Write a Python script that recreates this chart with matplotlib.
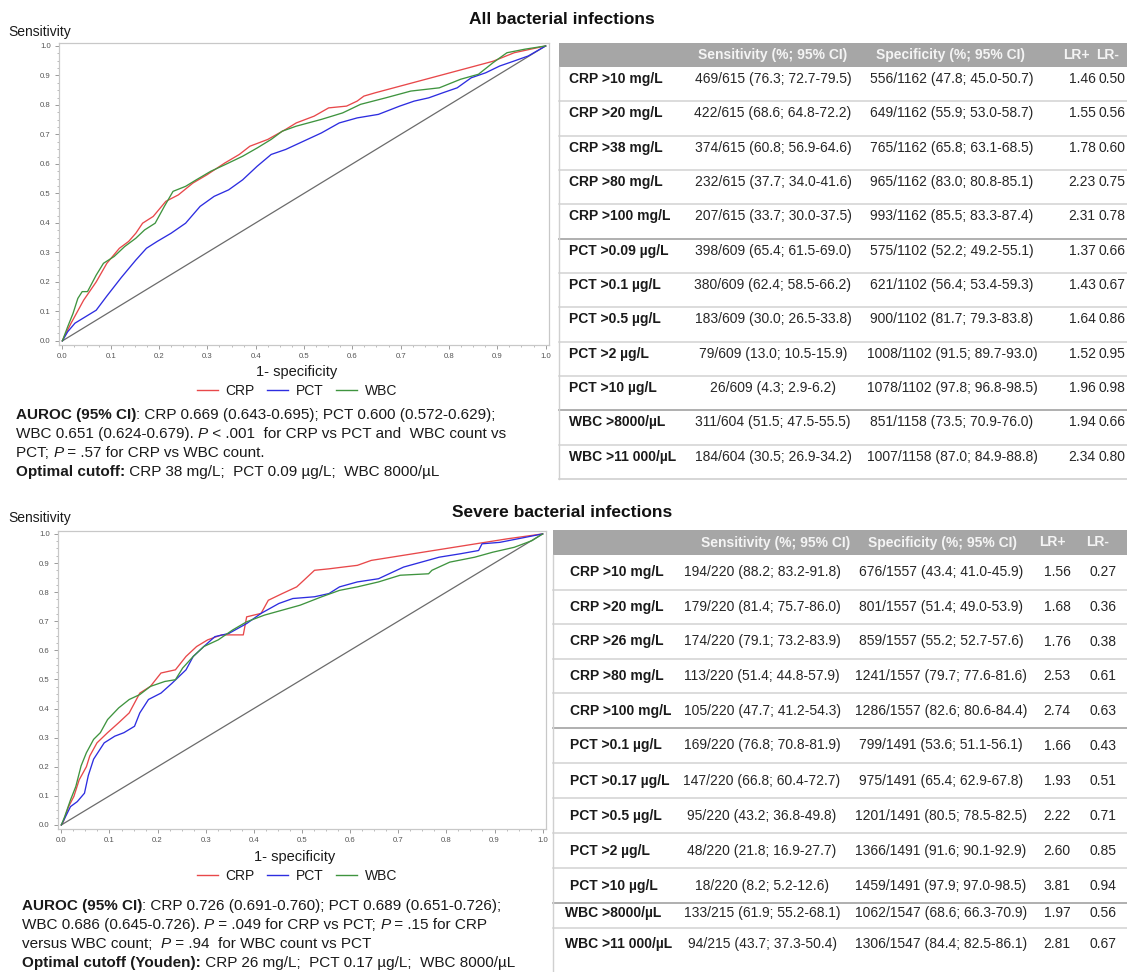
import matplotlib
matplotlib.use('Agg')
import matplotlib.pyplot as plt
from matplotlib.lines import Line2D
from matplotlib.patches import Rectangle
from matplotlib.ticker import MultipleLocator

W, H = 1127, 972
plt.rcParams['font.family'] = ['Liberation Sans', 'DejaVu Sans']

# ---------------- ROC data ----------------
# Top panel: all bacterial infections
top_crp_fpr = [0.0, 0.004, 0.018, 0.044, 0.07, 0.092, 0.118, 0.137, 0.152, 0.166, 0.188, 0.214, 0.24, 0.27,
               0.299, 0.336, 0.366, 0.388, 0.425, 0.462, 0.484, 0.521, 0.551, 0.588, 0.61, 0.624, 0.647,
               0.891, 0.935, 1.0]
top_crp_tpr = [0.0, 0.015, 0.06, 0.138, 0.2, 0.263, 0.314, 0.337, 0.365, 0.399, 0.422, 0.473, 0.495, 0.535,
               0.563, 0.603, 0.632, 0.66, 0.683, 0.717, 0.739, 0.762, 0.79, 0.796, 0.813, 0.83, 0.841,
               0.948, 0.977, 1.0]
top_pct_fpr = [0.0, 0.011, 0.026, 0.048, 0.07, 0.092, 0.122, 0.152, 0.174, 0.196, 0.225, 0.255, 0.285,
               0.314, 0.344, 0.373, 0.403, 0.432, 0.462, 0.499, 0.536, 0.573, 0.61, 0.654, 0.698, 0.728,
               0.758, 0.787, 0.817, 0.846, 0.876, 0.905, 0.935, 0.964, 1.0]
top_pct_tpr = [0.0, 0.031, 0.06, 0.082, 0.104, 0.152, 0.215, 0.274, 0.314, 0.337, 0.365, 0.399, 0.456,
               0.49, 0.512, 0.546, 0.592, 0.632, 0.649, 0.677, 0.705, 0.739, 0.756, 0.768, 0.796, 0.813,
               0.824, 0.841, 0.858, 0.892, 0.909, 0.932, 0.949, 0.966, 1.0]
top_wbc_fpr = [0.0, 0.011, 0.022, 0.032, 0.041, 0.052, 0.07, 0.085, 0.107, 0.129, 0.152, 0.17, 0.192,
               0.211, 0.229, 0.255, 0.277, 0.307, 0.336, 0.373, 0.403, 0.432, 0.455, 0.484, 0.536, 0.58,
               0.617, 0.669, 0.721, 0.78, 0.824, 0.861, 0.891, 0.92, 0.957, 1.0]
top_wbc_tpr = [0.0, 0.048, 0.093, 0.144, 0.167, 0.167, 0.223, 0.263, 0.286, 0.32, 0.348, 0.376, 0.399,
               0.456, 0.507, 0.524, 0.546, 0.575, 0.597, 0.626, 0.654, 0.683, 0.711, 0.728, 0.751, 0.773,
               0.802, 0.824, 0.847, 0.858, 0.887, 0.904, 0.943, 0.977, 0.989, 1.0]

# Bottom panel: severe bacterial infections
bot_crp_fpr = [0.0, 0.004, 0.015, 0.026, 0.037, 0.052, 0.059, 0.074, 0.096, 0.119, 0.141, 0.163, 0.185,
               0.207, 0.237, 0.259, 0.281, 0.304, 0.333, 0.378, 0.385, 0.415, 0.43, 0.459, 0.489, 0.504,
               0.526, 0.556, 0.585, 0.615, 0.644, 0.926, 1.0]
bot_crp_tpr = [0.0, 0.011, 0.063, 0.098, 0.155, 0.2, 0.237, 0.282, 0.317, 0.351, 0.385, 0.453, 0.476,
               0.522, 0.533, 0.579, 0.613, 0.636, 0.653, 0.653, 0.715, 0.727, 0.772, 0.795, 0.818, 0.841,
               0.875, 0.88, 0.886, 0.892, 0.909, 0.983, 1.0]
bot_pct_fpr = [0.0, 0.007, 0.019, 0.033, 0.048, 0.056, 0.067, 0.089, 0.111, 0.13, 0.152, 0.163, 0.181,
               0.207, 0.23, 0.259, 0.274, 0.296, 0.319, 0.348, 0.385, 0.415, 0.452, 0.481, 0.526, 0.556,
               0.578, 0.615, 0.659, 0.681, 0.711, 0.748, 0.785, 0.83, 0.867, 0.874, 0.911, 0.948, 1.0]
bot_pct_tpr = [0.0, 0.023, 0.063, 0.08, 0.109, 0.17, 0.226, 0.282, 0.305, 0.317, 0.339, 0.385, 0.431,
               0.453, 0.487, 0.533, 0.579, 0.613, 0.647, 0.658, 0.692, 0.727, 0.761, 0.778, 0.784, 0.795,
               0.818, 0.835, 0.846, 0.863, 0.886, 0.903, 0.92, 0.932, 0.943, 0.966, 0.971, 0.983, 1.0]
bot_wbc_fpr = [0.0, 0.007, 0.019, 0.03, 0.041, 0.052, 0.067, 0.081, 0.096, 0.119, 0.141, 0.163, 0.185,
               0.215, 0.237, 0.252, 0.274, 0.296, 0.326, 0.356, 0.385, 0.422, 0.459, 0.496, 0.541, 0.578,
               0.615, 0.659, 0.704, 0.763, 0.77, 0.807, 0.859, 0.896, 0.941, 0.978, 1.0]
bot_wbc_tpr = [0.0, 0.029, 0.086, 0.132, 0.203, 0.248, 0.294, 0.317, 0.362, 0.402, 0.431, 0.448, 0.476,
               0.493, 0.499, 0.539, 0.579, 0.613, 0.636, 0.67, 0.698, 0.721, 0.738, 0.755, 0.784, 0.806,
               0.818, 0.835, 0.858, 0.863, 0.875, 0.903, 0.92, 0.937, 0.954, 0.977, 1.0]

tick_values = [0.0, 0.1, 0.2, 0.3, 0.4, 0.5, 0.6, 0.7, 0.8, 0.9, 1.0]
tick_labels = ['0.0', '0.1', '0.2', '0.3', '0.4', '0.5', '0.6', '0.7', '0.8', '0.9', '1.0']
series_names = ['CRP', 'PCT', 'WBC']

# ---------------- Table data ----------------
table_header = ['Sensitivity (%; 95% CI)', 'Specificity (%; 95% CI)', 'LR+', 'LR-']

top_labels = ['CRP >10 mg/L', 'CRP >20 mg/L', 'CRP >38 mg/L', 'CRP >80 mg/L', 'CRP >100 mg/L',
              'PCT >0.09 µg/L', 'PCT >0.1 µg/L', 'PCT >0.5 µg/L', 'PCT >2 µg/L', 'PCT >10 µg/L',
              'WBC >8000/µL', 'WBC >11 000/µL']
top_sens = ['469/615 (76.3; 72.7-79.5)', '422/615 (68.6; 64.8-72.2)', '374/615 (60.8; 56.9-64.6)',
            '232/615 (37.7; 34.0-41.6)', '207/615 (33.7; 30.0-37.5)', '398/609 (65.4; 61.5-69.0)',
            '380/609 (62.4; 58.5-66.2)', '183/609 (30.0; 26.5-33.8)', '79/609 (13.0; 10.5-15.9)',
            '26/609 (4.3; 2.9-6.2)', '311/604 (51.5; 47.5-55.5)', '184/604 (30.5; 26.9-34.2)']
top_spec = ['556/1162 (47.8; 45.0-50.7)', '649/1162 (55.9; 53.0-58.7)', '765/1162 (65.8; 63.1-68.5)',
            '965/1162 (83.0; 80.8-85.1)', '993/1162 (85.5; 83.3-87.4)', '575/1102 (52.2; 49.2-55.1)',
            '621/1102 (56.4; 53.4-59.3)', '900/1102 (81.7; 79.3-83.8)', '1008/1102 (91.5; 89.7-93.0)',
            '1078/1102 (97.8; 96.8-98.5)', '851/1158 (73.5; 70.9-76.0)', '1007/1158 (87.0; 84.9-88.8)']
top_lrp = ['1.46', '1.55', '1.78', '2.23', '2.31', '1.37', '1.43', '1.64', '1.52', '1.96', '1.94', '2.34']
top_lrn = ['0.50', '0.56', '0.60', '0.75', '0.78', '0.66', '0.67', '0.86', '0.95', '0.98', '0.66', '0.80']

bot_labels = ['CRP >10 mg/L', 'CRP >20 mg/L', 'CRP >26 mg/L', 'CRP >80 mg/L', 'CRP >100 mg/L',
              'PCT >0.1 µg/L', 'PCT >0.17 µg/L', 'PCT >0.5 µg/L', 'PCT >2 µg/L', 'PCT >10 µg/L',
              'WBC >8000/µL', 'WBC >11 000/µL']
bot_sens = ['194/220 (88.2; 83.2-91.8)', '179/220 (81.4; 75.7-86.0)', '174/220 (79.1; 73.2-83.9)',
            '113/220 (51.4; 44.8-57.9)', '105/220 (47.7; 41.2-54.3)', '169/220 (76.8; 70.8-81.9)',
            '147/220 (66.8; 60.4-72.7)', '95/220 (43.2; 36.8-49.8)', '48/220 (21.8; 16.9-27.7)',
            '18/220 (8.2; 5.2-12.6)', '133/215 (61.9; 55.2-68.1)', '94/215 (43.7; 37.3-50.4)']
bot_spec = ['676/1557 (43.4; 41.0-45.9)', '801/1557 (51.4; 49.0-53.9)', '859/1557 (55.2; 52.7-57.6)',
            '1241/1557 (79.7; 77.6-81.6)', '1286/1557 (82.6; 80.6-84.4)', '799/1491 (53.6; 51.1-56.1)',
            '975/1491 (65.4; 62.9-67.8)', '1201/1491 (80.5; 78.5-82.5)', '1366/1491 (91.6; 90.1-92.9)',
            '1459/1491 (97.9; 97.0-98.5)', '1062/1547 (68.6; 66.3-70.9)', '1306/1547 (84.4; 82.5-86.1)']
bot_lrp = ['1.56', '1.68', '1.76', '2.53', '2.74', '1.66', '1.93', '2.22', '2.60', '3.81', '1.97', '2.81']
bot_lrn = ['0.27', '0.36', '0.38', '0.61', '0.63', '0.43', '0.51', '0.71', '0.85', '0.94', '0.56', '0.67']

top_title = 'All bacterial infections'
bot_title = 'Severe bacterial infections'

top_notes = [
    [('AUROC (95% CI)', 'b'), (': CRP 0.669 (0.643-0.695); PCT 0.600 (0.572-0.629);', 'n')],
    [('WBC 0.651 (0.624-0.679). ', 'n'), ('P', 'i'), (' < .001  for CRP vs PCT and  WBC count vs', 'n')],
    [('PCT; ', 'n'), ('P', 'i'), (' = .57 for CRP vs WBC count.', 'n')],
    [('Optimal cutoff:', 'b'), (' CRP 38 mg/L;  PCT 0.09 µg/L;  WBC 8000/µL', 'n')],
]
bot_notes = [
    [('AUROC (95% CI)', 'b'), (': CRP 0.726 (0.691-0.760); PCT 0.689 (0.651-0.726);', 'n')],
    [('WBC 0.686 (0.645-0.726). ', 'n'), ('P', 'i'), (' = .049 for CRP vs PCT; ', 'n'), ('P', 'i'),
     (' = .15 for CRP', 'n')],
    [('versus WBC count;  ', 'n'), ('P', 'i'), (' = .94  for WBC count vs PCT', 'n')],
    [('Optimal cutoff (Youden):', 'b'), (' CRP 26 mg/L;  PCT 0.17 µg/L;  WBC 8000/µL', 'n')],
]

# ---------------- Figure ----------------
fig = plt.figure(figsize=(W / 100, H / 100), dpi=100)
fig.patch.set_facecolor('white')
renderer = fig.canvas.get_renderer()

def fx(px):
    return px / W

def fy(py):
    return 1 - py / H

COL = {'CRP': '#e8484a', 'PCT': '#2d2de0', 'WBC': '#3f943f'}
TXT = '#1a1a1a'

def roc_axes(left, top, right, bottom, curves):
    ax = fig.add_axes([fx(left), fy(bottom), (right - left) / W, (bottom - top) / H])
    ax.plot([0, 1], [0, 1], color='#6b6b6b', lw=0.9)
    for name, (xs, ys) in zip(series_names, curves):
        ax.plot(xs, ys, color=COL[name], lw=0.95)
    ax.set_xlim(-0.007, 1.007)
    ax.set_ylim(-0.014, 1.01)
    ax.set_xticks(tick_values)
    ax.set_xticklabels(tick_labels)
    ax.set_yticks(tick_values)
    ax.set_yticklabels(tick_labels)
    ax.xaxis.set_minor_locator(MultipleLocator(0.025))
    ax.yaxis.set_minor_locator(MultipleLocator(0.025))
    ax.tick_params(which='major', length=3, width=0.7, color='#9a9a9a', labelsize=5.6,
                   labelcolor='#555555', pad=3)
    ax.tick_params(which='minor', length=1.6, width=0.6, color='#b0b0b0')
    for s in ax.spines.values():
        s.set_color('#c8c8c8')
        s.set_linewidth(0.9)
    return ax

def measure(s, **kw):
    t1 = fig.text(0, 0, s + 'x', fontsize=kw.get('size', 10), fontweight=kw.get('weight', 'normal'),
                  fontstyle=kw.get('style', 'normal'))
    t2 = fig.text(0, 0, 'x', fontsize=kw.get('size', 10), fontweight=kw.get('weight', 'normal'),
                  fontstyle=kw.get('style', 'normal'))
    w = t1.get_window_extent(renderer=renderer).width - t2.get_window_extent(renderer=renderer).width
    t1.remove()
    t2.remove()
    return w

def rich_line(x, y, segments, size=11):
    for s, st in segments:
        kw = dict(size=size)
        if st == 'b':
            kw['weight'] = 'bold'
        if st == 'i':
            kw['style'] = 'italic'
        fig.text(fx(x), fy(y), s, fontsize=size, fontweight=kw.get('weight', 'normal'),
                 fontstyle=kw.get('style', 'normal'), color=TXT, ha='left', va='center')
        x += measure(s, **kw)

def hline(x0, x1, y, color, lw=1.1):
    fig.add_artist(Line2D([fx(x0), fx(x1)], [fy(y), fy(y)], transform=fig.transFigure,
                          color=color, lw=lw))

def vline(x, y0, y1, color, lw=1.0):
    fig.add_artist(Line2D([fx(x), fx(x)], [fy(y0), fy(y1)], transform=fig.transFigure,
                          color=color, lw=lw))

def draw_table(x0, x1, hdr_top, hdr_bot, header_x, col_x, label_x, row_y, seps, dark_seps, labels,
               sens, spec, lrp, lrn, bottom_border=None, label_x_wbc=None):
    fig.add_artist(Rectangle((fx(x0), fy(hdr_bot)), (x1 - x0) / W, (hdr_bot - hdr_top) / H,
                             transform=fig.transFigure, facecolor='#a6a6a6', edgecolor='none'))
    hy = (hdr_top + hdr_bot) / 2
    for hx, htxt in zip(header_x, table_header):
        fig.text(fx(hx), fy(hy), htxt, fontsize=10, fontweight='bold', color='#f4f4f4',
                 ha='center', va='center')
    for s in seps:
        hline(x0, x1, s, '#d6d6d6', 1.2)
    for s in dark_seps:
        hline(x0, x1, s, '#a9a9a9', 1.3)
    if bottom_border is not None:
        hline(x0, x1, bottom_border, '#d0d0d0', 1.2)
        vline(x0, hdr_bot, bottom_border, '#d0d0d0')
    else:
        vline(x0, hdr_bot, H, '#d0d0d0')
    for i, yy in enumerate(row_y):
        lx = label_x
        if label_x_wbc is not None and labels[i].startswith('WBC'):
            lx = label_x_wbc
        fig.text(fx(lx), fy(yy), labels[i], fontsize=10, fontweight='bold', color=TXT,
                 ha='left', va='center')
        for cx, vals in zip(col_x, (sens, spec, lrp, lrn)):
            fig.text(fx(cx), fy(yy), vals[i], fontsize=10, color='#262626', ha='center', va='center')

# ---- top panel ----
ax1 = roc_axes(59, 43, 549, 345, [(top_crp_fpr, top_crp_tpr), (top_pct_fpr, top_pct_tpr),
                                  (top_wbc_fpr, top_wbc_tpr)])
fig.text(fx(562), fy(19), top_title, fontsize=12.5, fontweight='bold', color='#111111',
         ha='center', va='center')
fig.text(fx(8), fy(32), 'Sensitivity', fontsize=10, color=TXT, ha='left', va='center')
fig.text(fx(297), fy(372), '1- specificity', fontsize=10.5, color=TXT, ha='center', va='center')

# ---- bottom panel ----
ax2 = roc_axes(58, 531, 546, 829, [(bot_crp_fpr, bot_crp_tpr), (bot_pct_fpr, bot_pct_tpr),
                                   (bot_wbc_fpr, bot_wbc_tpr)])
fig.text(fx(562), fy(512), bot_title, fontsize=12.5, fontweight='bold', color='#111111',
         ha='center', va='center')
fig.text(fx(8), fy(518), 'Sensitivity', fontsize=10, color=TXT, ha='left', va='center')
fig.text(fx(295), fy(857), '1- specificity', fontsize=10.5, color=TXT, ha='center', va='center')

handles = [Line2D([], [], color=COL[n], lw=1.0) for n in series_names]
for cy in (391, 876):
    fig.legend(handles, series_names, loc='center', bbox_to_anchor=(fx(297), fy(cy)), ncol=3,
               frameon=False, fontsize=10, handlelength=1.5, handletextpad=0.55, columnspacing=0.9,
               borderpad=0, borderaxespad=0, labelcolor=TXT)

for i, seg in enumerate(top_notes):
    rich_line(16, 415 + 19 * i, seg)
for i, seg in enumerate(bot_notes):
    rich_line(22, 906 + 19 * i, seg)

# ---- top table ----
rh = (479 - 67) / 12
top_rows = [67 + rh * i + 12 for i in range(12)]
top_seps = [67 + rh * k for k in range(1, 12) if k not in (5, 10)]
top_dark = [67 + rh * 5, 67 + rh * 10]
draw_table(559, 1127, 43, 67, [773, 951, 1076, 1108], [773, 952, 1082, 1112], 569, top_rows,
           top_seps, top_dark, top_labels, top_sens, top_spec, top_lrp, top_lrn, bottom_border=479)

# ---- bottom table ----
crp_h = (728 - 555) / 5
pct_h = (903 - 728) / 5
bot_rows = ([555 + crp_h * i + crp_h / 2 for i in range(5)] +
            [728 + pct_h * i + pct_h / 2 for i in range(5)] + [913, 944])
bot_seps = [555 + crp_h * k for k in range(1, 5)] + [728 + pct_h * k for k in range(1, 5)] + [928]
bot_dark = [728, 903]
draw_table(553, 1127, 530, 555, [776, 942, 1052, 1098], [762, 941, 1057, 1103], 570, bot_rows,
           bot_seps, bot_dark, bot_labels, bot_sens, bot_spec, bot_lrp, bot_lrn, bottom_border=None,
           label_x_wbc=565)

fig.savefig('out.png', dpi=100, facecolor='white')
